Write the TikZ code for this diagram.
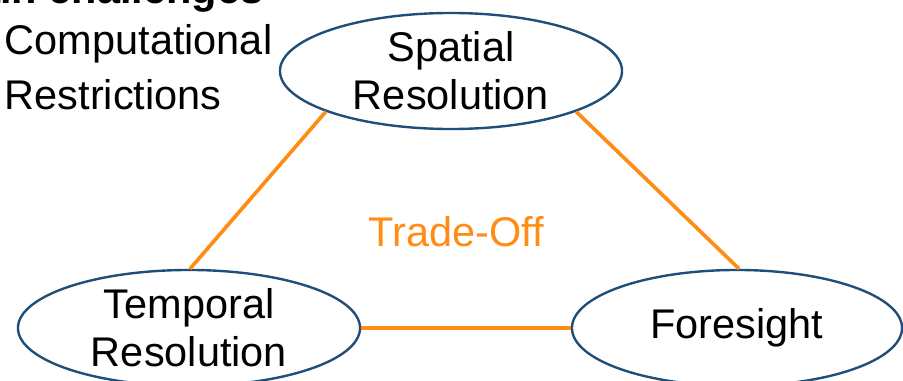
\documentclass[tikz,border=0pt]{standalone}
\usepackage{fontspec}
\setmainfont{Liberation Sans}
\usepackage{xcolor}
\usetikzlibrary{shapes.geometric}
\definecolor{navy}{RGB}{31,78,121}
\definecolor{tradeorange}{RGB}{255,140,20}

\begin{document}
\begin{tikzpicture}[x=0.025cm, y=-0.025cm, line width=2.6pt]
\tikzstyle{every node}=[inner sep=0pt, font=\fontsize{29.5}{34}\selectfont]
\tikzstyle{goal}=[ellipse, draw=navy, line width=1.7pt, fill=white, align=center,
    minimum width=8.55cm, minimum height=2.9cm]
\useasboundingbox (0,0) rectangle (903,381);
\node[anchor=base east, font=\fontsize{29.5}{34}\selectfont\bfseries] (head) at (265,4) {Main challenges};
\node[anchor=base west] (comp)  at (3,55)  {Computational};
\node[anchor=base west] (restr) at (3,110) {Restrictions};
\node[goal] (spatial)  at (451,71)  {Spatial\\Resolution};
\node[goal] (temporal) at (189,328) {Temporal\\Resolution};
\node[goal, minimum width=8.25cm] (fore) at (737,328) {Foresight};
\node[text=tradeorange] (trade) at (456,232) {Trade-Off};
\draw[tradeorange]
(spatial.198) edge (temporal.89)
(spatial.-18) edge (fore.88)
(temporal.east) edge (fore.west);
\end{tikzpicture}
\end{document}
